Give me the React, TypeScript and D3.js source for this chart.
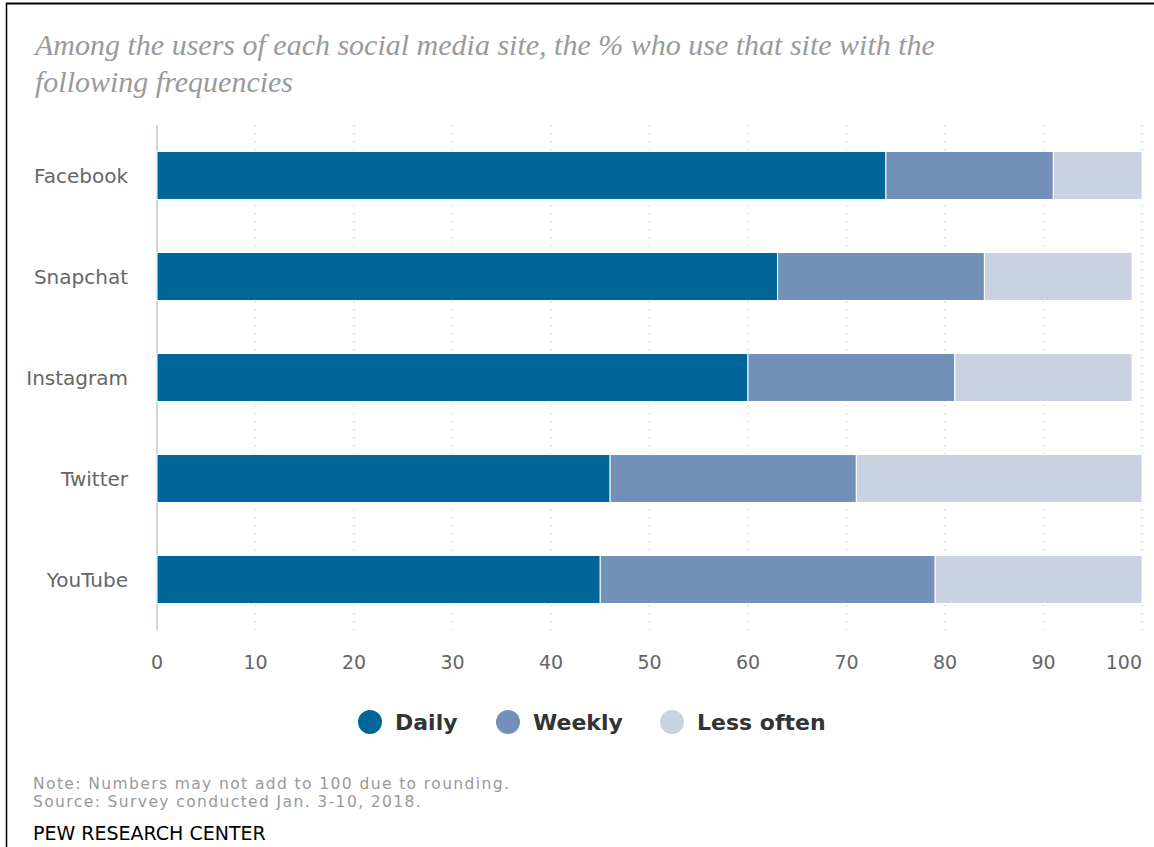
import React from "react";
import * as d3 from "d3";

const categories = ["Facebook", "Snapchat", "Instagram", "Twitter", "YouTube"];
const seriesNames = ["Daily", "Weekly", "Less often"];
const daily = [74, 63, 60, 46, 45];
const weekly = [17, 21, 21, 25, 34];
const lessOften = [9, 15, 18, 29, 21];
const xTicks = [0, 10, 20, 30, 40, 50, 60, 70, 80, 90, 100];
const colors = ["#006699", "#7391B8", "#CAD1E1"];

const titleLines = [
  "Among the users of each social media site, the % who use that site with the",
  "following frequencies",
];
const noteLines = [
  "Note: Numbers may not add to 100 due to rounding.",
  "Source: Survey conducted Jan. 3-10, 2018.",
];
const credit = "PEW RESEARCH CENTER";

const W = 1154;
const H = 847;
const plot = { left: 157, right: 1142, top: 125, bottom: 630 };

export default function App() {
  const x = d3.scaleLinear().domain([0, 100]).range([plot.left, plot.right]);
  const y = d3
    .scaleBand<string>()
    .domain(categories)
    .range([plot.top, plot.bottom])
    .paddingInner(0.525)
    .paddingOuter(0.2625);

  const rows = categories.map((c, i) => ({
    cat: c,
    Daily: daily[i],
    Weekly: weekly[i],
    "Less often": lessOften[i],
  }));
  const stacked = d3.stack<any>().keys(seriesNames)(rows);
  const color = d3.scaleOrdinal<string, string>().domain(seriesNames).range(colors);

  const sans = "'DejaVu Sans', Verdana, sans-serif";
  const legendX = [370, 508, 672];

  return (
    <svg
      width={W}
      height={H}
      style={{ position: "absolute", left: 0, top: 0, background: "#fff" }}
    >
      <rect x={0} y={0} width={W} height={H} fill="#fff" />
      <line x1={6} y1={3.5} x2={W} y2={3.5} stroke="#000" strokeWidth={2} />
      <line x1={6.5} y1={3} x2={6.5} y2={H} stroke="#000" strokeWidth={1.5} />

      {titleLines.map((t, i) => (
        <text
          key={i}
          x={35}
          y={55 + i * 37}
          fill="#9a9a9a"
          fontFamily="'Liberation Serif', 'Times New Roman', serif"
          fontStyle="italic"
          fontSize={30}
        >
          {t}
        </text>
      ))}

      {xTicks.slice(1).map((t) => (
        <line
          key={t}
          x1={x(t)}
          x2={x(t)}
          y1={plot.top}
          y2={plot.bottom}
          stroke="#d8d8d8"
          strokeWidth={1.5}
          strokeDasharray="1.5,6.5"
        />
      ))}
      <line
        x1={x(0)}
        x2={x(0)}
        y1={plot.top}
        y2={plot.bottom}
        stroke="#ccd6eb"
        strokeWidth={2}
      />

      {stacked.map((s) => (
        <g key={s.key} fill={color(s.key)}>
          {s.map((d, i) => (
            <rect
              key={i}
              x={x(d[0])}
              y={y(categories[i])}
              width={x(d[1]) - x(d[0])}
              height={y.bandwidth()}
              stroke="#fff"
              strokeWidth={1}
            />
          ))}
        </g>
      ))}

      {categories.map((c) => (
        <text
          key={c}
          x={128}
          y={(y(c) as number) + y.bandwidth() / 2}
          dy="0.35em"
          textAnchor="end"
          fill="#666"
          fontFamily={sans}
          fontSize={20}
        >
          {c}
        </text>
      ))}

      {xTicks.map((t, i) => (
        <text
          key={t}
          x={x(t)}
          y={669}
          textAnchor={i === xTicks.length - 1 ? "end" : "middle"}
          fill="#666"
          fontFamily={sans}
          fontSize={19}
        >
          {t}
        </text>
      ))}

      {seriesNames.map((n, i) => (
        <g key={n}>
          <circle cx={legendX[i]} cy={722} r={12} fill={colors[i]} />
          <text
            x={legendX[i] + 25}
            y={730}
            fill="#333"
            fontFamily={sans}
            fontWeight="bold"
            fontSize={22}
          >
            {n}
          </text>
        </g>
      ))}

      {noteLines.map((t, i) => (
        <text
          key={i}
          x={33}
          y={789 + i * 18}
          fill="#999"
          fontFamily={sans}
          fontSize={15.5}
          letterSpacing={1.4}
        >
          {t}
        </text>
      ))}
      <text x={33} y={840} fill="#000" fontFamily={sans} fontSize={19}>
        {credit}
      </text>
    </svg>
  );
}
